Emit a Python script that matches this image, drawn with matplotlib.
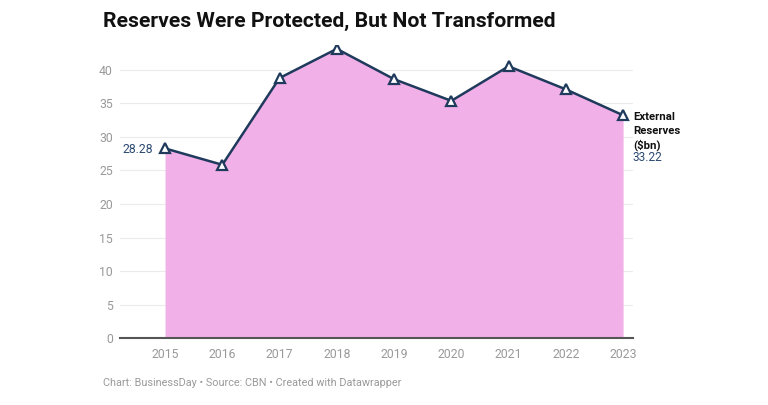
import matplotlib.pyplot as plt

# Réserves extérieures du Nigeria (milliards $)
years = [2015, 2016, 2017, 2018, 2019, 2020, 2021, 2022, 2023]
reserves = [28.28, 25.84, 38.77, 43.12, 38.60, 35.37, 40.52, 37.08, 33.22]
yticks = [0, 5, 10, 15, 20, 25, 30, 35, 40]
label_lines = ["External", "Reserves", "($bn)"]

plt.rcParams['font.family'] = ['Roboto', 'DejaVu Sans']

navy = "#1f3a5c"
fig = plt.figure(figsize=(7.68, 4.05), dpi=100)
ax = fig.add_axes([0.156, 0.165, 0.668, 0.724])

ax.fill_between(years, reserves, 0, color="#f2b0e8", linewidth=0, zorder=2)
ax.plot(years, reserves, color=navy, linewidth=1.8, marker="^", markersize=7.5,
        markerfacecolor="white", markeredgecolor=navy, markeredgewidth=1.6, zorder=4)

ax.set_xlim(2014.21, 2023.17)
ax.set_ylim(0, 43.7)
ax.set_yticks(yticks)
ax.set_xticks(years)
ax.grid(axis="y", color="#ebebeb", linewidth=0.8, zorder=1)
ax.axhline(0, color="#555555", linewidth=1.5, zorder=5, clip_on=False)
for s in ax.spines.values():
    s.set_visible(False)
ax.tick_params(axis="both", length=0, labelsize=8.8, labelcolor="#999999")
ax.tick_params(axis="y", pad=5)
ax.tick_params(axis="x", pad=7)

# étiquettes des valeurs
ax.annotate(f"{reserves[0]:.2f}", (years[0], reserves[0]), xytext=(-9, -1),
            textcoords="offset points", ha="right", va="center", fontsize=8.8, color="#2c4a70")
for i, line in enumerate(label_lines):
    ax.annotate(line, (years[-1], reserves[-1]), xytext=(7, -1 - 10.2 * i),
                textcoords="offset points", ha="left", va="center", fontsize=8.2,
                fontweight="bold", color="#111111", annotation_clip=False)
ax.annotate(f"{reserves[-1]:.2f}", (years[-1], reserves[-1]), xytext=(7, -30.5),
            textcoords="offset points", ha="left", va="center", fontsize=8.6,
            color="#2c4a70", annotation_clip=False)

fig.text(0.134, 0.947, "Reserves Were Protected, But Not Transformed",
         fontsize=15.2, fontweight="bold", color="#111111", va="center")
fig.text(0.134, 0.055, "Chart: BusinessDay \u2022 Source: CBN \u2022 Created with Datawrapper",
         fontsize=7.8, color="#9a9a9a", va="center")

plt.savefig("out.png", dpi=100)
